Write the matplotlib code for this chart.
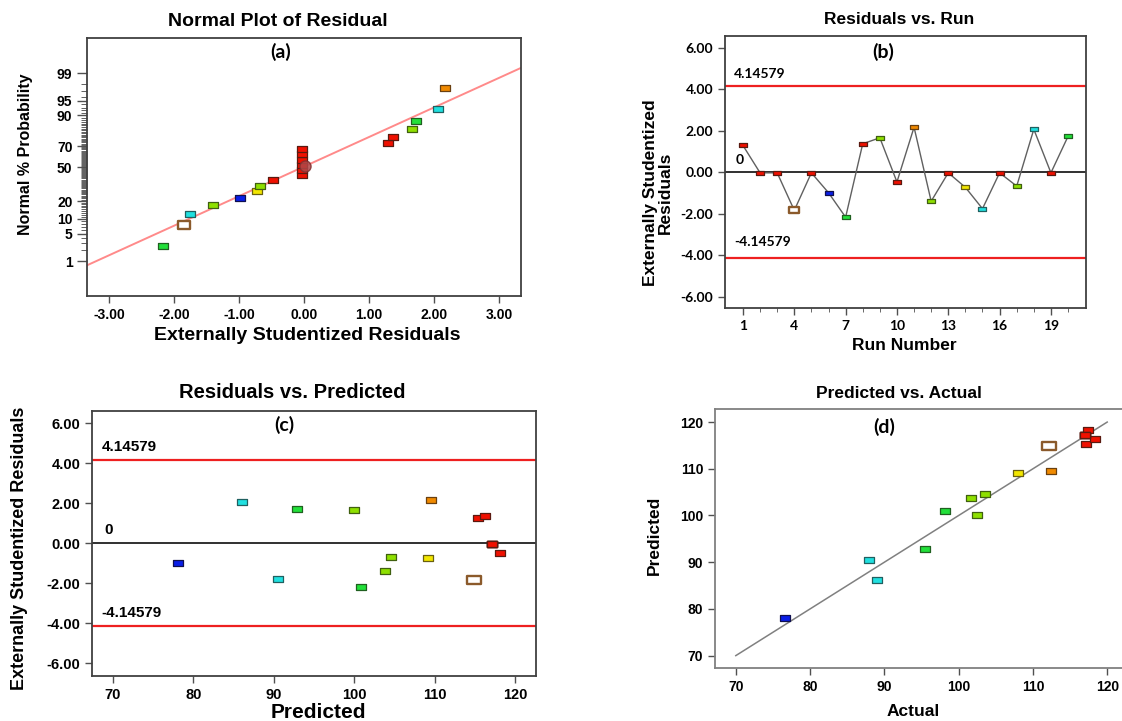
import numpy as np
import matplotlib
matplotlib.use("Agg")
import matplotlib.pyplot as plt
from matplotlib.path import Path
from statistics import NormalDist

plt.rcParams['font.family'] = ['Liberation Sans', 'DejaVu Sans']
plt.rcParams['font.weight'] = 'bold'

# data, one entry per run (1..20)
runs = list(range(1, 21))
residuals = [1.29, -0.03, -0.03, -1.84, -0.03, -0.99, -2.17, 1.37, 1.66, -0.47,
             2.17, -1.40, -0.03, -0.73, -1.76, -0.03, -0.67, 2.07, -0.03, 1.73]
predicted = [115.4, 117.2, 117.2, 114.9, 117.2, 78.1, 100.9, 116.3, 100.0, 118.2,
             109.5, 103.8, 117.2, 109.2, 90.5, 117.2, 104.6, 86.1, 117.2, 92.9]
actual = [117.2, 117.0, 117.0, 112.2, 117.0, 76.6, 98.2, 118.4, 102.5, 117.4,
          112.4, 101.7, 117.0, 108.0, 87.9, 117.0, 103.5, 89.0, 117.0, 95.5]
groups = ['red', 'red', 'red', 'hollow', 'red', 'blue', 'green', 'red', 'lime', 'red',
          'orange', 'lime', 'red', 'yellow', 'cyan', 'red', 'lime', 'cyan', 'red', 'green']

limit = 4.14579
prob_labels = [1, 5, 10, 20, 50, 70, 90, 95, 99]
fit_slope = 0.732
fit_intercept = 0.015

palette = {
    'red': ('#f01000', '#5a1a10'),
    'orange': ('#f08a00', '#6a4010'),
    'yellow': ('#f2e600', '#6a6010'),
    'lime': ('#8ee000', '#406010'),
    'green': ('#22e03a', '#206020'),
    'cyan': ('#20e0e0', '#206060'),
    'blue': ('#0a1ee8', '#101050'),
    'hollow': ('#ffffff', '#8b5a2b'),
}

rect = Path([(-1, -0.62), (1, -0.62), (1, 0.62), (-1, 0.62), (-1, -0.62)],
            [Path.MOVETO, Path.LINETO, Path.LINETO, Path.LINETO, Path.CLOSEPOLY])

W, H = 1122, 721
fig = plt.figure(figsize=(W / 100, H / 100), dpi=100)


def px_rect(l, t, r, b):
    return [l / W, 1 - b / H, (r - l) / W, (b - t) / H]


def ftxt(x, y, s, **kw):
    kw.setdefault('ha', 'center')
    kw.setdefault('va', 'center')
    fig.text(x / W, 1 - y / H, s, **kw)


def marks(ax, xs, ys, gs, size=7.5):
    for x, y, g in zip(xs, ys, gs):
        fc, ec = palette[g]
        ms = size * 1.25 if g == 'hollow' else size
        ew = 1.7 if g == 'hollow' else 0.9
        ax.plot(x, y, marker=rect, ms=ms, mfc=fc, mec=ec, mew=ew, ls='none', zorder=5)


def style(ax, spine='#404040'):
    for s in ax.spines.values():
        s.set_color(spine)
        s.set_linewidth(1.3)
    ax.tick_params(direction='out', color='#505050', width=1.0, length=5)


# (a) normal plot
ax_a = fig.add_axes(px_rect(87, 38, 521, 296))
style(ax_a)
nd = NormalDist()
order = np.argsort(residuals, kind='stable')
n = len(residuals)
zq = [nd.inv_cdf((i + 0.5) / n) for i in range(n)]
ax_a.set_xlim(-3.34, 3.34)
ax_a.set_ylim(-3.19, 3.20)
xl = np.array(ax_a.get_xlim())
ax_a.plot(xl, fit_intercept + fit_slope * xl, color='#ff8a8a', lw=1.4, zorder=2)
marks(ax_a, [residuals[i] for i in order], zq, [groups[i] for i in order], size=7)
ax_a.plot(0.02, 0.04, 'o', ms=8, mfc='#b04848', mec='#803030', alpha=0.85, zorder=6)
ax_a.set_xticks([-3, -2, -1, 0, 1, 2, 3])
ax_a.set_xticklabels(['-3.00', '-2.00', '-1.00', '0.00', '1.00', '2.00', '3.00'], fontsize=10)
ax_a.set_yticks([nd.inv_cdf(p / 100) for p in prob_labels])
ax_a.set_yticklabels([str(p) for p in prob_labels], fontsize=10)
ax_a.set_yticks([nd.inv_cdf(p / 100) for p in range(1, 100)], minor=True)
ax_a.tick_params(axis='y', which='minor', length=4.5, color='#606060', width=0.7)
ax_a.tick_params(axis='y', which='major', length=7)

# (b) residuals vs run
ax_b = fig.add_axes(px_rect(725, 36, 1086, 308))
style(ax_b)
ax_b.set_xlim(-0.05, 21.05)
ax_b.set_ylim(-6.55, 6.57)
ax_b.axhline(limit, color='#ee2020', lw=1.6)
ax_b.axhline(-limit, color='#ee2020', lw=1.6)
ax_b.axhline(0, color='#202020', lw=1.3)
ax_b.plot(runs, residuals, color='#606060', lw=1.0, zorder=3)
marks(ax_b, runs, residuals, groups, size=5.5)
ax_b.set_xticks([1, 4, 7, 10, 13, 16, 19])
ax_b.set_xticks(runs, minor=True)
ax_b.tick_params(axis='x', which='minor', length=3, color='#505050')
ax_b.set_yticks([-6, -4, -2, 0, 2, 4, 6])
ax_b.set_yticklabels(['%.2f' % v for v in [-6, -4, -2, 0, 2, 4, 6]])
for lab in ax_b.get_xticklabels() + ax_b.get_yticklabels():
    lab.set_family(['Lato', 'DejaVu Sans'])
    lab.set_fontsize(10)
ax_b.text(0.45, 4.74, '%.5f' % limit, fontsize=10, family=['Lato'], va='center')
ax_b.text(0.5, -3.36, '%.5f' % -limit, fontsize=10, family=['Lato'], va='center')
ax_b.text(0.55, 0.6, '0', fontsize=10, family=['Lato'], va='center')

# (c) residuals vs predicted
ax_c = fig.add_axes(px_rect(92, 411, 536, 676))
style(ax_c)
ax_c.set_xlim(67.38, 122.62)
ax_c.set_ylim(-6.63, 6.62)
ax_c.axhline(limit, color='#ee2020', lw=1.6)
ax_c.axhline(-limit, color='#ee2020', lw=1.6)
ax_c.axhline(0, color='#202020', lw=1.3)
marks(ax_c, predicted, residuals, groups, size=7.5)
ax_c.set_xticks([70, 80, 90, 100, 110, 120])
ax_c.set_yticks([-6, -4, -2, 0, 2, 4, 6])
ax_c.set_yticklabels(['%.2f' % v for v in [-6, -4, -2, 0, 2, 4, 6]])
ax_c.tick_params(labelsize=10.5)
ax_c.text(68.6, 4.83, '%.5f' % limit, fontsize=11, va='center')
ax_c.text(68.6, -3.47, '%.5f' % -limit, fontsize=11, va='center')
ax_c.text(68.9, 0.67, '0', fontsize=11, va='center')

# (d) predicted vs actual
ax_d = fig.add_axes(px_rect(715, 409, 1128, 668))
style(ax_d, spine='#808080')
ax_d.set_xlim(67.2, 122.8)
ax_d.set_ylim(67.35, 122.8)
ax_d.plot([70, 120], [70, 120], color='#808080', lw=1.1, zorder=2)
marks(ax_d, actual, predicted, groups, size=7.5)
ax_d.set_xticks([70, 80, 90, 100, 110, 120])
ax_d.set_yticks([70, 80, 90, 100, 110, 120])
ax_d.tick_params(labelsize=10)

# titles, panel tags and axis labels
ftxt(278, 21, 'Normal Plot of Residual', fontsize=14)
ftxt(899, 19, 'Residuals vs. Run', fontsize=12.5)
ftxt(292, 393, 'Residuals vs. Predicted', fontsize=14.5)
ftxt(899, 393, 'Predicted vs. Actual', fontsize=12.5)
for x, y, s in [(281, 52, '(a)'), (883, 52, '(b)'), (284, 425, '(c)'), (884, 427, '(d)')]:
    ftxt(x, y, s, fontsize=14, family=['Lato', 'DejaVu Sans'])
ftxt(307, 336, 'Externally Studentized Residuals', fontsize=14)
ftxt(904, 346, 'Run Number', fontsize=12.5)
ftxt(318, 712, 'Predicted', fontsize=15)
ftxt(913, 711, 'Actual', fontsize=12.5)
ftxt(26, 154, 'Normal % Probability', fontsize=11.5, rotation=90)
ftxt(658, 193, 'Externally Studentized\nResiduals', fontsize=12.5, rotation=90,
     linespacing=1.0)
ftxt(20, 548, 'Externally Studentized Residuals', fontsize=13, rotation=90)
ftxt(654, 535, 'Predicted', fontsize=12.5, rotation=90)

fig.savefig('out.png', dpi=100)
